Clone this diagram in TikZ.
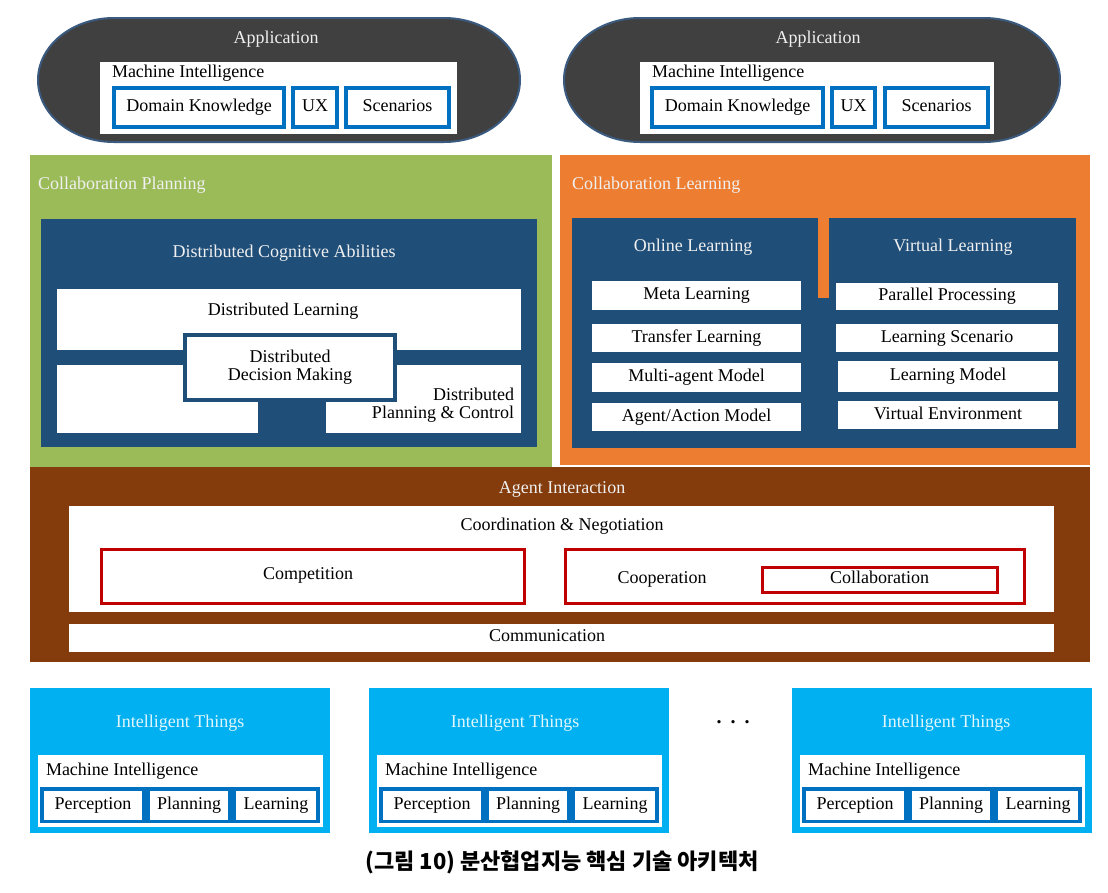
\documentclass[tikz,border=0pt]{standalone}
\usepackage{fontspec}
\setmainfont{Liberation Serif}
\newfontfamily\krfont{Noto Sans CJK KR}
\definecolor{appgray}{HTML}{404040}
\definecolor{appedge}{HTML}{3A5A80}
\definecolor{boxblue}{HTML}{0070C0}
\definecolor{cpgreen}{HTML}{9BBB59}
\definecolor{dblue}{HTML}{1F4E79}
\definecolor{clorange}{HTML}{ED7D31}
\definecolor{aibrown}{HTML}{843C0C}
\definecolor{boxred}{HTML}{C00000}
\definecolor{itcyan}{HTML}{00B0F0}
\definecolor{lighttxt}{HTML}{F0F0F0}
\newcommand\bx[7]{%
  \pgfmathsetmacro\bxw{(#5)-(#3)}\pgfmathsetmacro\bxh{(#6)-(#4)}%
  \node[#2,minimum width=\bxw pt,minimum height=\bxh pt] (#1) at ({((#3)+(#5))/2},{((#4)+(#6))/2}) {#7};}
\begin{document}
\begin{tikzpicture}[x=1pt,y=-1pt,
  every node/.style={inner sep=0pt,outer sep=0pt,font=\fontsize{18}{18}\selectfont},
  panel/.style={rectangle},
  stadium/.style={fill=appgray,draw=appedge,line width=2pt},
  wbox/.style={rectangle,fill=white},
  bluebox/.style={rectangle,fill=white,draw=boxblue,line width=4pt},
  redbox/.style={rectangle,draw=boxred,line width=3pt},
  ddmbox/.style={rectangle,fill=white,draw=dblue,line width=3.5pt,align=center},
  lbl/.style={text height=12pt,text depth=4pt},
  wlbl/.style={lbl,text=lighttxt},
]
\useasboundingbox (0,0) rectangle (1108,892);
\fill[white] (0,0) rectangle (1108,892);

% ---------- Applications ----------
\foreach \n/\cx/\tx/\w/\mx/\dka/\dkb/\uxa/\uxb/\sca/\scb/\wa/\wb in
  {1/279/276/482/112/114/284/293/337/346/449/100/457,
   2/812/818/496/652/652/823/832/875/885/988/640/994}{
  \node[rectangle,minimum width=\w pt,minimum height=124pt] (app\n) at (\cx,80) {};
  \path[stadium] ([xshift=76pt]app\n.north west) -- ([xshift=-76pt]app\n.north east)
     arc[start angle=90,end angle=-90,x radius=76pt,y radius=62pt]
     -- ([xshift=76pt]app\n.south west)
     arc[start angle=270,end angle=90,x radius=76pt,y radius=62pt] -- cycle;
  \node[wlbl] (appT\n) at (\tx,39) {Application};
  \bx{mi\n}{wbox}{\wa}{62}{\wb}{134}{}
  \node[lbl,anchor=west] (miT\n) at (\mx,73) {Machine Intelligence};
  \bx{dk\n}{bluebox,lbl}{\dka}{88}{\dkb}{127}{Domain Knowledge}
  \bx{ux\n}{bluebox,lbl}{\uxa}{88}{\uxb}{127}{UX}
  \bx{sc\n}{bluebox,lbl}{\sca}{88}{\scb}{127}{Scenarios}
}

% ---------- Collaboration Planning ----------
\bx{cp}{panel,fill=cpgreen}{30}{155}{552}{467}{}
\node[wlbl,anchor=west] (cpT) at (38,185) {Collaboration Planning};
\bx{dca}{panel,fill=dblue}{41}{219}{537}{447}{}
\node[wlbl] (dcaT) at (284,253) {Distributed Cognitive Abilities};
\bx{dl}{wbox}{57}{289}{521}{350}{}
\node[lbl] (dlT) at (283,311) {Distributed Learning};
\bx{ll}{wbox}{57}{365}{258}{433}{}
\bx{dpc}{wbox}{326}{365}{521}{433}{}
\node[lbl,anchor=east,align=right,text height=,text depth=] (dpcT) at (514,405) {Distributed\\Planning \& Control};
\bx{ddm}{ddmbox}{185}{335}{395}{400}{Distributed\\Decision Making}

% ---------- Collaboration Learning ----------
\bx{cl}{panel,fill=clorange}{560}{155}{1090}{465}{}
\node[wlbl,anchor=west] (clT) at (572,185) {Collaboration Learning};
\bx{ol}{panel,fill=dblue}{572}{218}{818}{448}{}
\bx{vl}{panel,fill=dblue}{829}{218}{1076}{448}{}
\bx{bridge}{panel,fill=dblue}{817}{298}{830}{448}{}
\node[wlbl] (olT) at (693,247) {Online Learning};
\node[wlbl] (vlT) at (953,247) {Virtual Learning};
\bx{ml}{wbox,lbl}{592}{281}{801}{310}{Meta Learning}
\bx{tl}{wbox,lbl}{592}{324}{801}{352}{Transfer Learning}
\bx{mam}{wbox,lbl}{592}{363}{801}{392}{Multi-agent Model}
\bx{aam}{wbox,lbl}{592}{403}{801}{431}{Agent/Action Model}
\bx{pp}{wbox,lbl}{836}{283}{1058}{310}{Parallel Processing}
\bx{ls}{wbox,lbl}{836}{324}{1058}{352}{Learning Scenario}
\bx{lm}{wbox,lbl}{838}{361}{1058}{392}{Learning Model}
\bx{ve}{wbox,lbl}{838}{401}{1058}{429}{Virtual Environment}

% ---------- Agent Interaction ----------
\bx{ai}{panel,fill=aibrown}{30}{467}{1090}{662}{}
\node[wlbl] (aiT) at (562,489) {Agent Interaction};
\bx{cn}{wbox}{69}{506}{1054}{612}{}
\node[lbl] (cnT) at (562,526) {Coordination \& Negotiation};
\bx{comp}{redbox}{101}{549}{524}{603}{}
\node[lbl] (compT) at (308,575) {Competition};
\bx{coop}{redbox}{565}{549}{1024}{603}{}
\node[lbl] (coopT) at (662,579) {Cooperation};
\bx{collab}{redbox,lbl}{762}{567}{997}{592}{Collaboration}
\bx{comm}{wbox}{69}{624}{1054}{652}{}
\node[lbl] (commT) at (547,637) {Communication};

% ---------- Intelligent Things ----------
\foreach \n/\x/\tx in {1/30/180,2/369/515,3/792/946}{
  \bx{it\n}{panel,fill=itcyan}{\x}{688}{\x+300}{833}{}
  \node[lbl,text=white!88!itcyan] (itT\n) at (\tx,723) {Intelligent Things};
  \bx{itmi\n}{wbox}{\x+8}{755}{\x+293}{827}{}
  \node[lbl,anchor=west] (itmiT\n) at (\x+16,771) {Machine Intelligence};
  \bx{band\n}{panel,fill=boxblue}{\x+10}{787}{\x+290}{823}{}
  \bx{per\n}{wbox,lbl}{\x+14}{791}{\x+112}{820}{Perception}
  \bx{pla\n}{wbox,lbl}{\x+120}{791}{\x+198}{820}{Planning}
  \bx{lea\n}{wbox,lbl}{\x+206}{791}{\x+286}{820}{Learning}
}
\node[font=\fontsize{20}{20}\selectfont\bfseries] (dots) at (733,722) {.\hspace{9pt}.\hspace{9pt}.};

% ---------- Caption ----------
\node[font=\krfont\bfseries\fontsize{22}{24}\selectfont] (cap) at (562,862) {(그림 10) 분산협업지능 핵심 기술 아키텍처};
\end{tikzpicture}
\end{document}
